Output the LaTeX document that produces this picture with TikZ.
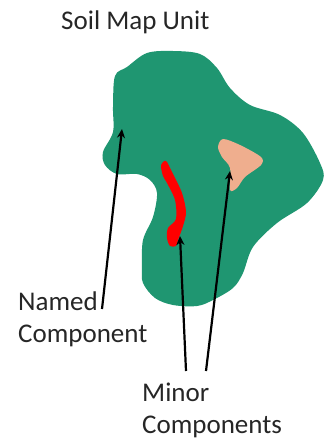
\documentclass[tikz,border=0pt]{standalone}
\usepackage{xcolor}
\usepackage{fontspec}
\setmainfont{Carlito}
\usetikzlibrary{arrows.meta, positioning}
\definecolor{unitgreen}{HTML}{1F9671}
\definecolor{minorpeach}{HTML}{EFAE8E}
\definecolor{labelgray}{HTML}{262626}

\begin{document}
\begin{tikzpicture}[
    x=1pt, y=-1pt,
    label/.style={align=left, inner sep=0pt, text=labelgray, font=\fontsize{27}{32}\selectfont},
    arrow/.style={-{Stealth[length=9pt, width=8pt]}, line width=2.2pt, black},
]
    \useasboundingbox (0,0) rectangle (326,440);

    % Map unit
    \fill[unitgreen] plot[smooth cycle, tension=0.55] coordinates {
        (115,76) (127,67) (147,53) (173,51) (200,54) (217,68) (230,88) (250,105)
        (280,115) (303,133) (320,163) (323,180) (307,203) (277,223) (253,247)
        (243,273) (233,288) (213,300) (197,306) (173,305) (155,298) (143,283)
        (142,267) (143,240) (153,217) (157,193) (150,180) (137,174) (117,174)
        (105,165) (103,152) (113,132) (113,107)};

    % Minor components
    \fill[minorpeach] plot[smooth cycle, tension=0.5] coordinates {
        (218,147) (223,139) (240,145) (261,157) (261,165) (245,177) (237,188)
        (230,190) (230,168) (222,157)};
    \fill[red] plot[smooth cycle, tension=0.5] coordinates {
        (161,165) (166,161) (172,172) (182,193) (186,212) (183,226) (178,240)
        (176,246) (170,246) (167,238) (168,228) (176,219) (175,200) (167,183) (163,176)};

    % Labels
    \node[label, anchor=base west] (title) at (61,29) {Soil Map Unit};
    \node[label, anchor=base west] (named) at (18,342) {Named\\Component};
    \node[label, anchor=base west] (minor) at (142,433) {Minor\\Components};

    % Arrow ends
    \coordinate (namedstart) at (102,309);
    \coordinate (namedend) at (122,129);
    \coordinate (redstart) at (186,371);
    \coordinate (redend) at (180,236);
    \coordinate (peachstart) at (206,371);
    \coordinate (peachend) at (230,171);

    % Arrows
    \draw[arrow] (namedstart) -- (namedend);
    \draw[arrow] (redstart) -- (redend);
    \draw[arrow] (peachstart) -- (peachend);
\end{tikzpicture}
\end{document}
